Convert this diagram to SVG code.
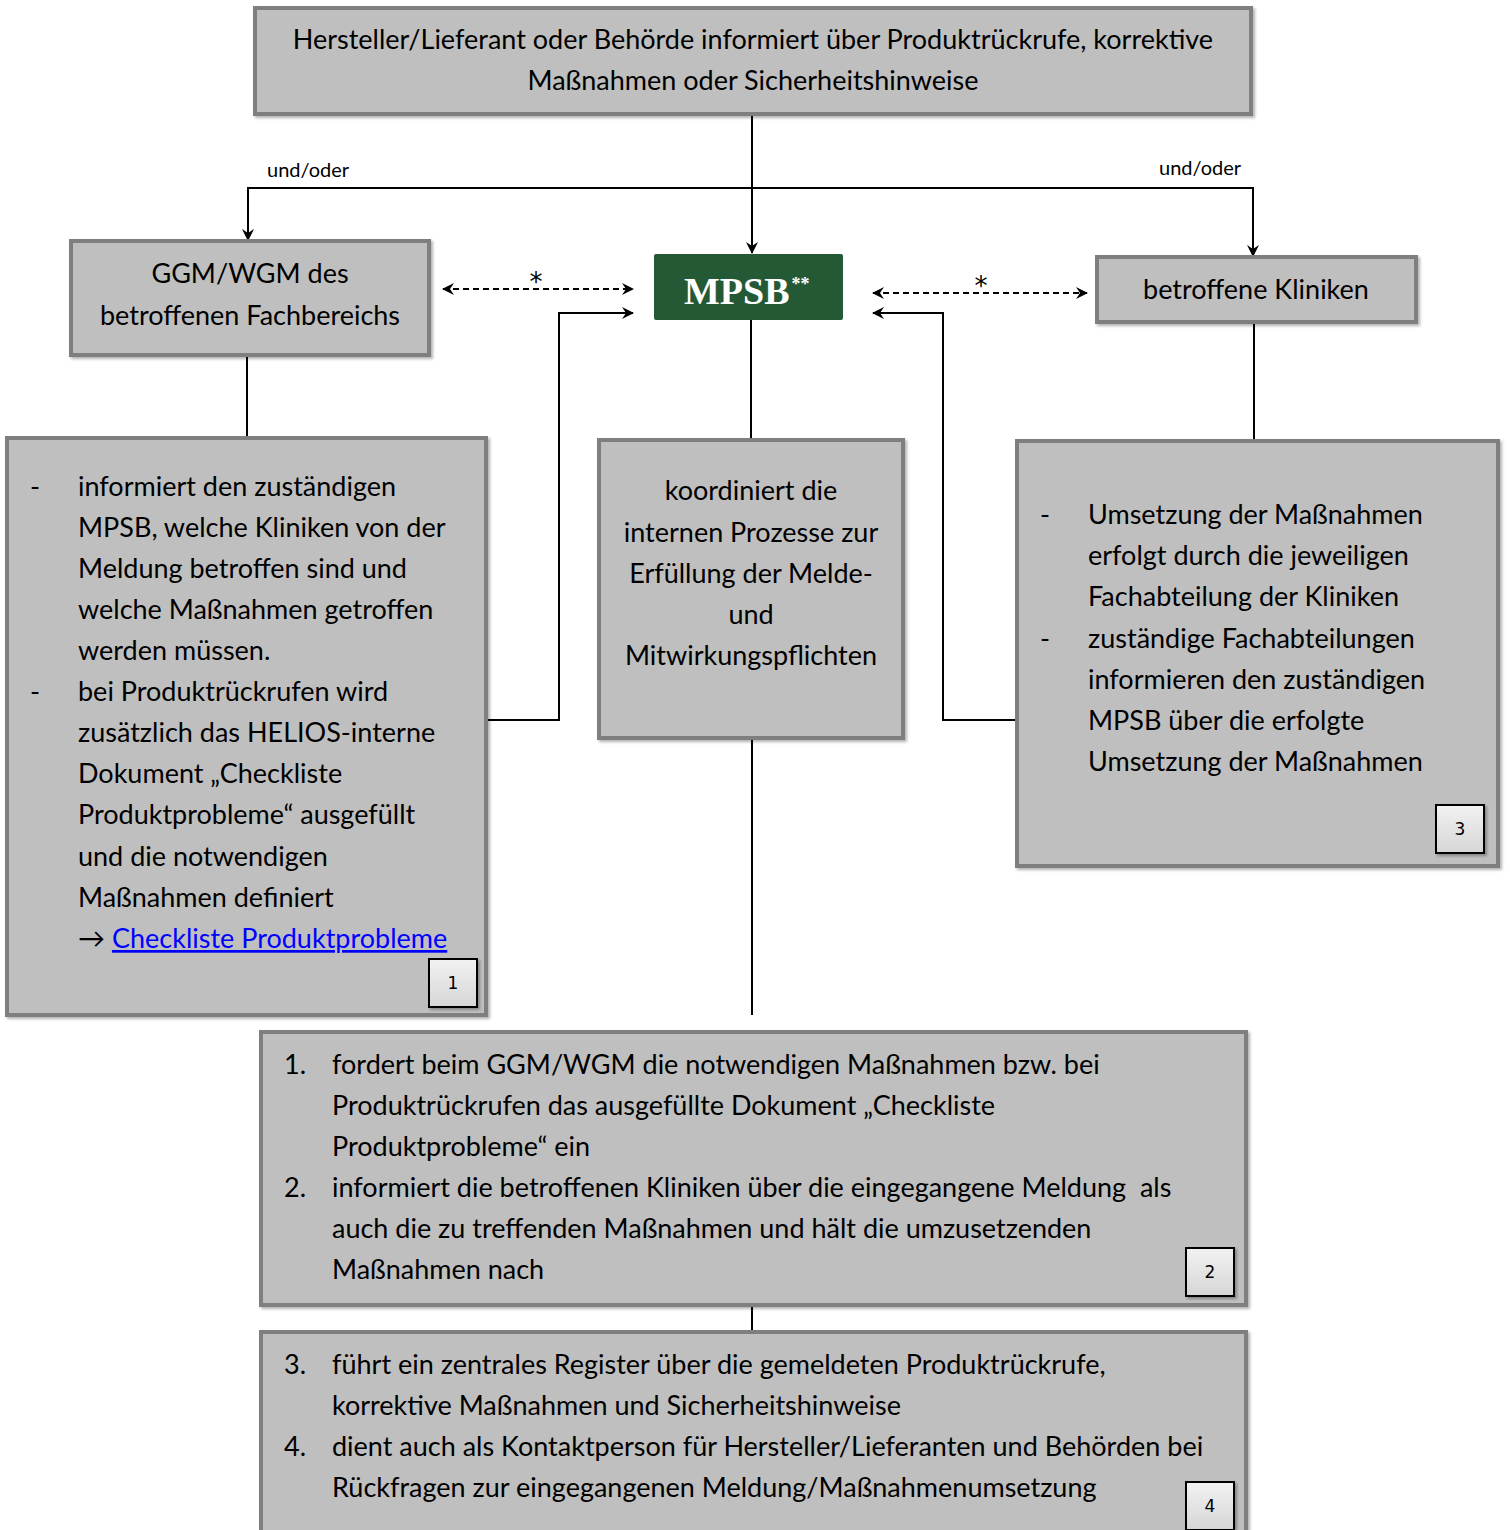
<svg xmlns="http://www.w3.org/2000/svg" width="1510" height="1530" viewBox="0 0 1510 1530">
<style>
.box{fill:#bfbfbf;stroke:#7f7f7f;stroke-width:4;filter:url(#sh)}
.t{font-family:Lato,"Liberation Sans",sans-serif;font-size:27px;fill:#000}
.c{text-anchor:middle}
.lbl{font-family:Lato,"Liberation Sans",sans-serif;font-size:20px;fill:#000}
.star{font-family:"DejaVu Sans",sans-serif;font-size:26px;text-anchor:middle;fill:#000}
.ln{fill:none;stroke:#000;stroke-width:2}
.dash{stroke-dasharray:6 4}
.badge{fill:url(#bg);stroke:#000;stroke-width:2;filter:url(#sh)}
.num{font-family:"DejaVu Sans",sans-serif;font-size:17px;text-anchor:middle;fill:#000}
.link{fill:#0000ff;text-decoration:underline}
</style>
<defs>
<filter id="sh" x="-5%" y="-5%" width="115%" height="115%">
<feDropShadow dx="2" dy="2" stdDeviation="1.5" flood-color="#000" flood-opacity="0.3"/>
</filter>
<linearGradient id="bg" x1="0" y1="0" x2="0" y2="1">
<stop offset="0" stop-color="#f2f2f2"/>
<stop offset="1" stop-color="#d6d6d6"/>
</linearGradient>
<marker id="ar" viewBox="0 0 12 12" refX="11" refY="6" markerWidth="12" markerHeight="12" markerUnits="userSpaceOnUse" orient="auto-start-reverse">
<path d="M0,0 L12,6 L0,12 L4,6 z" fill="#000"/>
</marker>
</defs>

<g id="connectors">
<path class="ln" d="M752,114 V253" marker-end="url(#ar)"/>
<path class="ln" d="M248,240 V188 H1253 V256" marker-start="url(#ar)" marker-end="url(#ar)"/>
<path class="ln dash" d="M443,289 H633" marker-start="url(#ar)" marker-end="url(#ar)"/>
<path class="ln dash" d="M873,293 H1087" marker-start="url(#ar)" marker-end="url(#ar)"/>
<path class="ln" d="M247,355 V436"/>
<path class="ln" d="M486,720 H559 V313 H633" marker-end="url(#ar)"/>
<path class="ln" d="M1017,720 H943 V313 H873" marker-end="url(#ar)"/>
<path class="ln" d="M751,320 V440"/>
<path class="ln" d="M1254,322 V441"/>
<path class="ln" d="M752,738 V1015"/>
<path class="ln" d="M752,1305 V1332"/>
<text class="lbl" x="267" y="177">und/oder</text>
<text class="lbl" x="1159" y="175">und/oder</text>
<text class="star" x="536" y="291">*</text>
<text class="star" x="981" y="295">*</text>
</g>

<g id="top">
<rect class="box" x="255" y="8" width="996" height="106"/>
<text class="t c" x="753" y="49">Hersteller/Lieferant oder Behörde informiert über Produktrückrufe, korrektive</text>
<text class="t c" x="753" y="90">Maßnahmen oder Sicherheitshinweise</text>
</g>

<g id="ggm">
<rect class="box" x="71" y="241" width="358" height="114"/>
<text class="t c" x="250" y="283">GGM/WGM des</text>
<text class="t c" x="250" y="325">betroffenen Fachbereichs</text>
</g>

<g id="mpsb">
<rect x="654" y="254" width="189" height="66" rx="2" fill="#245936"/>
<text x="684" y="304" font-family="'Liberation Serif',serif" font-weight="bold" font-size="38" fill="#fff">MPSB<tspan font-size="18" dx="2" dy="-14">**</tspan></text>
</g>

<g id="kliniken">
<rect class="box" x="1097" y="257" width="319" height="65"/>
<text class="t c" x="1256" y="299">betroffene Kliniken</text>
</g>

<g id="box1">
<rect class="box" x="7" y="438" width="479" height="577"/>
<text class="t" x="30" y="496">-</text>
<text class="t" x="78" y="496">informiert den zuständigen</text>
<text class="t" x="78" y="537">MPSB, welche Kliniken von der</text>
<text class="t" x="78" y="578">Meldung betroffen sind und</text>
<text class="t" x="78" y="619">welche Maßnahmen getroffen</text>
<text class="t" x="78" y="660">werden müssen.</text>
<text class="t" x="30" y="701">-</text>
<text class="t" x="78" y="701">bei Produktrückrufen wird</text>
<text class="t" x="78" y="742">zusätzlich das HELIOS-interne</text>
<text class="t" x="78" y="783">Dokument „Checkliste</text>
<text class="t" x="78" y="824">Produktprobleme“ ausgefüllt</text>
<text class="t" x="78" y="866">und die notwendigen</text>
<text class="t" x="78" y="907">Maßnahmen definiert</text>
<text class="t" x="78" y="948">→ <tspan class="link">Checkliste Produktprobleme</tspan></text>
<rect class="badge" x="429" y="959" width="48" height="48"/>
<text class="num" x="453" y="989">1</text>
</g>

<g id="middle">
<rect class="box" x="599" y="440" width="304" height="298"/>
<text class="t c" x="751" y="500">koordiniert die</text>
<text class="t c" x="751" y="542">internen Prozesse zur</text>
<text class="t c" x="751" y="583">Erfüllung der Melde-</text>
<text class="t c" x="751" y="624">und</text>
<text class="t c" x="751" y="665">Mitwirkungspflichten</text>
</g>

<g id="box3">
<rect class="box" x="1017" y="441" width="481" height="425"/>
<text class="t" x="1040" y="524">-</text>
<text class="t" x="1088" y="524">Umsetzung der Maßnahmen</text>
<text class="t" x="1088" y="565">erfolgt durch die jeweiligen</text>
<text class="t" x="1088" y="606">Fachabteilung der Kliniken</text>
<text class="t" x="1040" y="648">-</text>
<text class="t" x="1088" y="648">zuständige Fachabteilungen</text>
<text class="t" x="1088" y="689">informieren den zuständigen</text>
<text class="t" x="1088" y="730">MPSB über die erfolgte</text>
<text class="t" x="1088" y="771">Umsetzung der Maßnahmen</text>
<rect class="badge" x="1436" y="805" width="48" height="48"/>
<text class="num" x="1460" y="835">3</text>
</g>

<g id="box2">
<rect class="box" x="261" y="1032" width="985" height="273"/>
<text class="t" x="284" y="1074">1.</text>
<text class="t" x="332" y="1074">fordert beim GGM/WGM die notwendigen Maßnahmen bzw. bei</text>
<text class="t" x="332" y="1115">Produktrückrufen das ausgefüllte Dokument „Checkliste</text>
<text class="t" x="332" y="1156">Produktprobleme“ ein</text>
<text class="t" x="284" y="1197">2.</text>
<text class="t" x="332" y="1197" style="white-space:pre">informiert die betroffenen Kliniken über die eingegangene Meldung  als</text>
<text class="t" x="332" y="1238">auch die zu treffenden Maßnahmen und hält die umzusetzenden</text>
<text class="t" x="332" y="1279">Maßnahmen nach</text>
<rect class="badge" x="1186" y="1248" width="48" height="48"/>
<text class="num" x="1210" y="1278">2</text>
</g>

<g id="box4">
<rect class="box" x="261" y="1332" width="985" height="210"/>
<text class="t" x="284" y="1374">3.</text>
<text class="t" x="332" y="1374">führt ein zentrales Register über die gemeldeten Produktrückrufe,</text>
<text class="t" x="332" y="1415">korrektive Maßnahmen und Sicherheitshinweise</text>
<text class="t" x="284" y="1456">4.</text>
<text class="t" x="332" y="1456">dient auch als Kontaktperson für Hersteller/Lieferanten und Behörden bei</text>
<text class="t" x="332" y="1497">Rückfragen zur eingegangenen Meldung/Maßnahmenumsetzung</text>
<rect class="badge" x="1186" y="1482" width="48" height="48"/>
<text class="num" x="1210" y="1512">4</text>
</g>
</svg>
